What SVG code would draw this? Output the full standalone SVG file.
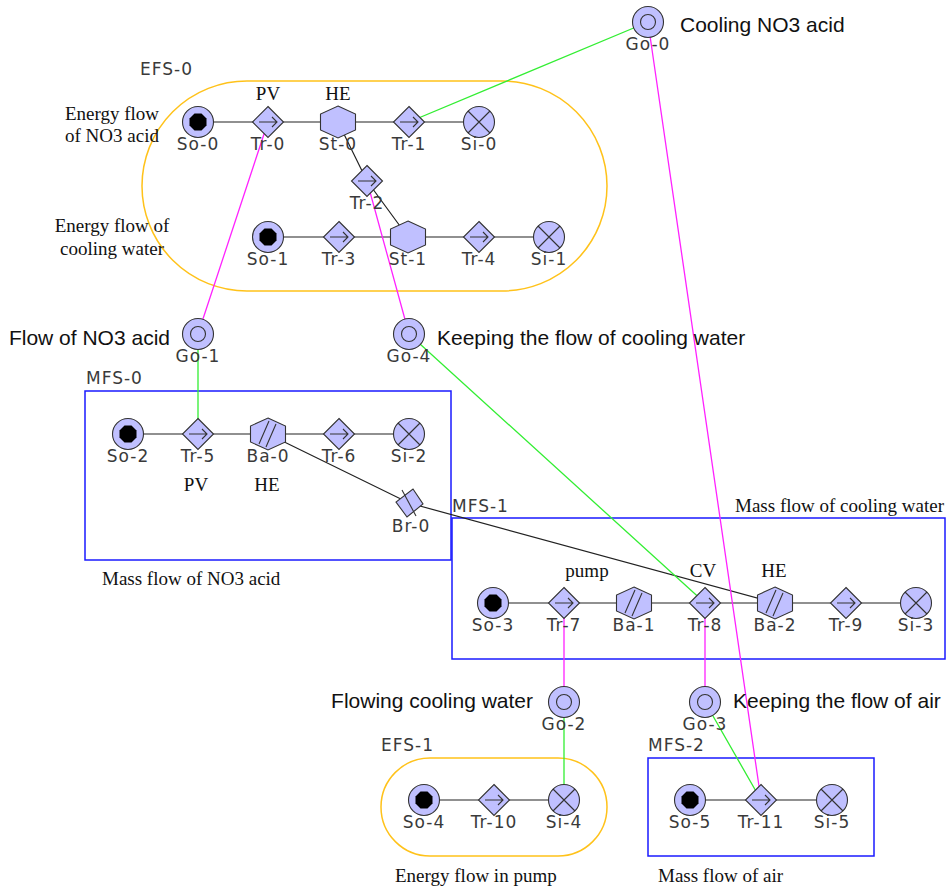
<svg xmlns="http://www.w3.org/2000/svg" xmlns:xlink="http://www.w3.org/1999/xlink" width="947" height="888" viewBox="0 0 947 888">
<style>
.bg{fill:#ffffff}
.efs{fill:none;stroke:#ffc21a;stroke-width:1.5}
.mfs{fill:none;stroke:#1a1aff;stroke-width:1.5}
.chain{stroke:#222;stroke-width:1.2;fill:none}
.mag{stroke:#ff22ff;stroke-width:1.3;fill:none}
.grn{stroke:#33ee33;stroke-width:1.3;fill:none}
.nf{fill:#c0c0ff;stroke:#333;stroke-width:1.1}
.ns{stroke:#333;stroke-width:1.1;fill:none}
.lbl{font-family:"DejaVu Sans",sans-serif;font-size:17px;letter-spacing:1px;fill:#3a3a3a;text-anchor:middle}
.grp{font-family:"DejaVu Sans",sans-serif;font-size:17px;letter-spacing:1px;fill:#3a3a3a}
.ser{font-family:"Liberation Serif","Times New Roman",serif;font-size:19px;fill:#111}
.sc{text-anchor:middle}
.san{font-family:"Liberation Sans",Arial,sans-serif;font-size:21px;fill:#111}
</style>
<defs>
<g id="source">
<circle r="15.5" class="nf"/>
<polygon points="3.5,-8.5 8.5,-3.5 8.5,3.5 3.5,8.5 -3.5,8.5 -8.5,3.5 -8.5,-3.5 -3.5,-8.5" fill="#000"/>
</g>
<g id="sink">
<circle r="15.5" class="nf"/>
<path d="M-11,-11L11,11M-11,11L11,-11" class="ns"/>
</g>
<g id="transport">
<polygon points="0,-15.5 15.5,0 0,15.5 -15.5,0" class="nf"/>
<path d="M-9,0H9M4,-5L9,0L4,5" class="ns"/>
</g>
<g id="storage">
<polygon points="0,-16 17.5,-8 17.5,8 0,16 -17.5,8 -17.5,-8" class="nf"/>
</g>
<g id="barrier">
<polygon points="0,-16 17.5,-8 17.5,8 0,16 -17.5,8 -17.5,-8" class="nf"/>
<path d="M-9,10L1,-13M-2,13L8,-10" class="ns"/>
</g>
<g id="goal">
<circle r="15.5" class="nf"/>
<circle r="7.5" class="ns"/>
</g>
<g id="bridge">
<polygon points="4,-14 14,1 -2,14 -13,-1" class="nf"/>
<path d="M-7,-13L7,13" class="ns"/>
</g>
</defs>
<rect class="bg" x="0" y="0" width="947" height="888"/>

<g id="groups">
<rect class="efs" x="142" y="81" width="465" height="210" rx="105" ry="105"/>
<rect class="efs" x="381" y="758" width="226" height="98" rx="49" ry="49"/>
<rect class="mfs" x="85" y="391" width="366" height="169"/>
<rect class="mfs" x="452" y="518" width="493" height="141"/>
<rect class="mfs" x="648" y="758" width="226" height="98"/>
<text class="grp" x="140" y="75">EFS-0</text>
<text class="grp" x="86" y="384">MFS-0</text>
<text class="grp" x="452" y="512">MFS-1</text>
<text class="grp" x="381" y="751">EFS-1</text>
<text class="grp" x="648" y="751">MFS-2</text>
</g>

<g id="connectors">
<path class="chain" d="M198,122H479M338,122L367,181L408,237M268,237H549"/>
<path class="chain" d="M128,434H409M268,434L409,503L775,603"/>
<path class="chain" d="M493,603H916"/>
<path class="chain" d="M424,800H564M690,800H832"/>
<path class="mag" d="M648,22L761,800M198,334L268,122M409,334L367,181M564,702V603M705,702V603"/>
<path class="grn" d="M648,22L409,122M198,334V434M409,334L705,603M564,702V800M705,702L761,800"/>
</g>

<g id="So-0"><use href="#source" x="198" y="122"/><text class="lbl" x="198" y="150">So-0</text></g>
<g id="Tr-0"><use href="#transport" x="268" y="122"/><text class="lbl" x="268" y="150">Tr-0</text></g>
<g id="St-0"><use href="#storage" x="338" y="122"/><text class="lbl" x="338" y="150">St-0</text></g>
<g id="Tr-1"><use href="#transport" x="409" y="122"/><text class="lbl" x="409" y="150">Tr-1</text></g>
<g id="Si-0"><use href="#sink" x="479" y="122"/><text class="lbl" x="479" y="150">Si-0</text></g>
<g id="Tr-2"><use href="#transport" x="367" y="181"/><text class="lbl" x="367" y="209">Tr-2</text></g>
<g id="So-1"><use href="#source" x="268" y="237"/><text class="lbl" x="268" y="265">So-1</text></g>
<g id="Tr-3"><use href="#transport" x="339" y="237"/><text class="lbl" x="339" y="265">Tr-3</text></g>
<g id="St-1"><use href="#storage" x="408" y="237"/><text class="lbl" x="408" y="265">St-1</text></g>
<g id="Tr-4"><use href="#transport" x="479" y="237"/><text class="lbl" x="479" y="265">Tr-4</text></g>
<g id="Si-1"><use href="#sink" x="549" y="237"/><text class="lbl" x="549" y="265">Si-1</text></g>

<g id="Go-0"><use href="#goal" x="648" y="22"/><text class="lbl" x="648" y="50">Go-0</text><text class="san" x="680" y="32">Cooling NO3 acid</text></g>
<g id="Go-1"><use href="#goal" x="198" y="334"/><text class="lbl" x="198" y="362">Go-1</text><text class="san" x="170" y="345" text-anchor="end">Flow of NO3 acid</text></g>
<g id="Go-4"><use href="#goal" x="409" y="334"/><text class="lbl" x="409" y="362">Go-4</text><text class="san" x="437" y="345">Keeping the flow of cooling water</text></g>
<g id="Go-2"><use href="#goal" x="564" y="702"/><text class="lbl" x="564" y="730">Go-2</text><text class="san" x="533" y="708" text-anchor="end">Flowing cooling water</text></g>
<g id="Go-3"><use href="#goal" x="705" y="702"/><text class="lbl" x="705" y="730">Go-3</text><text class="san" x="733" y="708">Keeping the flow of air</text></g>

<g id="So-2"><use href="#source" x="128" y="434"/><text class="lbl" x="128" y="462">So-2</text></g>
<g id="Tr-5"><use href="#transport" x="198" y="434"/><text class="lbl" x="198" y="462">Tr-5</text></g>
<g id="Ba-0"><use href="#barrier" x="268" y="434"/><text class="lbl" x="268" y="462">Ba-0</text></g>
<g id="Tr-6"><use href="#transport" x="339" y="434"/><text class="lbl" x="339" y="462">Tr-6</text></g>
<g id="Si-2"><use href="#sink" x="409" y="434"/><text class="lbl" x="409" y="462">Si-2</text></g>
<g id="Br-0"><use href="#bridge" x="409" y="503"/><text class="lbl" x="411" y="532">Br-0</text></g>

<g id="So-3"><use href="#source" x="493" y="603"/><text class="lbl" x="493" y="631">So-3</text></g>
<g id="Tr-7"><use href="#transport" x="564" y="603"/><text class="lbl" x="564" y="631">Tr-7</text></g>
<g id="Ba-1"><use href="#barrier" x="634" y="603"/><text class="lbl" x="634" y="631">Ba-1</text></g>
<g id="Tr-8"><use href="#transport" x="705" y="603"/><text class="lbl" x="705" y="631">Tr-8</text></g>
<g id="Ba-2"><use href="#barrier" x="775" y="603"/><text class="lbl" x="775" y="631">Ba-2</text></g>
<g id="Tr-9"><use href="#transport" x="846" y="603"/><text class="lbl" x="846" y="631">Tr-9</text></g>
<g id="Si-3"><use href="#sink" x="916" y="603"/><text class="lbl" x="916" y="631">Si-3</text></g>

<g id="So-4"><use href="#source" x="424" y="800"/><text class="lbl" x="424" y="828">So-4</text></g>
<g id="Tr-10"><use href="#transport" x="494" y="800"/><text class="lbl" x="494" y="828">Tr-10</text></g>
<g id="Si-4"><use href="#sink" x="564" y="800"/><text class="lbl" x="564" y="828">Si-4</text></g>
<g id="So-5"><use href="#source" x="690" y="800"/><text class="lbl" x="690" y="828">So-5</text></g>
<g id="Tr-11"><use href="#transport" x="761" y="800"/><text class="lbl" x="761" y="828">Tr-11</text></g>
<g id="Si-5"><use href="#sink" x="832" y="800"/><text class="lbl" x="832" y="828">Si-5</text></g>

<g id="annotations">
<text class="ser sc" x="268" y="100">PV</text>
<text class="ser sc" x="338" y="100">HE</text>
<text class="ser sc" x="112" y="120">Energy flow</text>
<text class="ser sc" x="112" y="142">of NO3 acid</text>
<text class="ser sc" x="112" y="232">Energy flow of</text>
<text class="ser sc" x="112" y="255">cooling water</text>
<text class="ser sc" x="196" y="491">PV</text>
<text class="ser sc" x="267" y="491">HE</text>
<text class="ser" x="102" y="585">Mass flow of NO3 acid</text>
<text class="ser" x="944" y="512" text-anchor="end">Mass flow of cooling water</text>
<text class="ser sc" x="587" y="577">pump</text>
<text class="ser sc" x="703" y="577">CV</text>
<text class="ser sc" x="774" y="577">HE</text>
<text class="ser" x="395" y="882">Energy flow in pump</text>
<text class="ser" x="658" y="882">Mass flow of air</text>
</g>
</svg>
